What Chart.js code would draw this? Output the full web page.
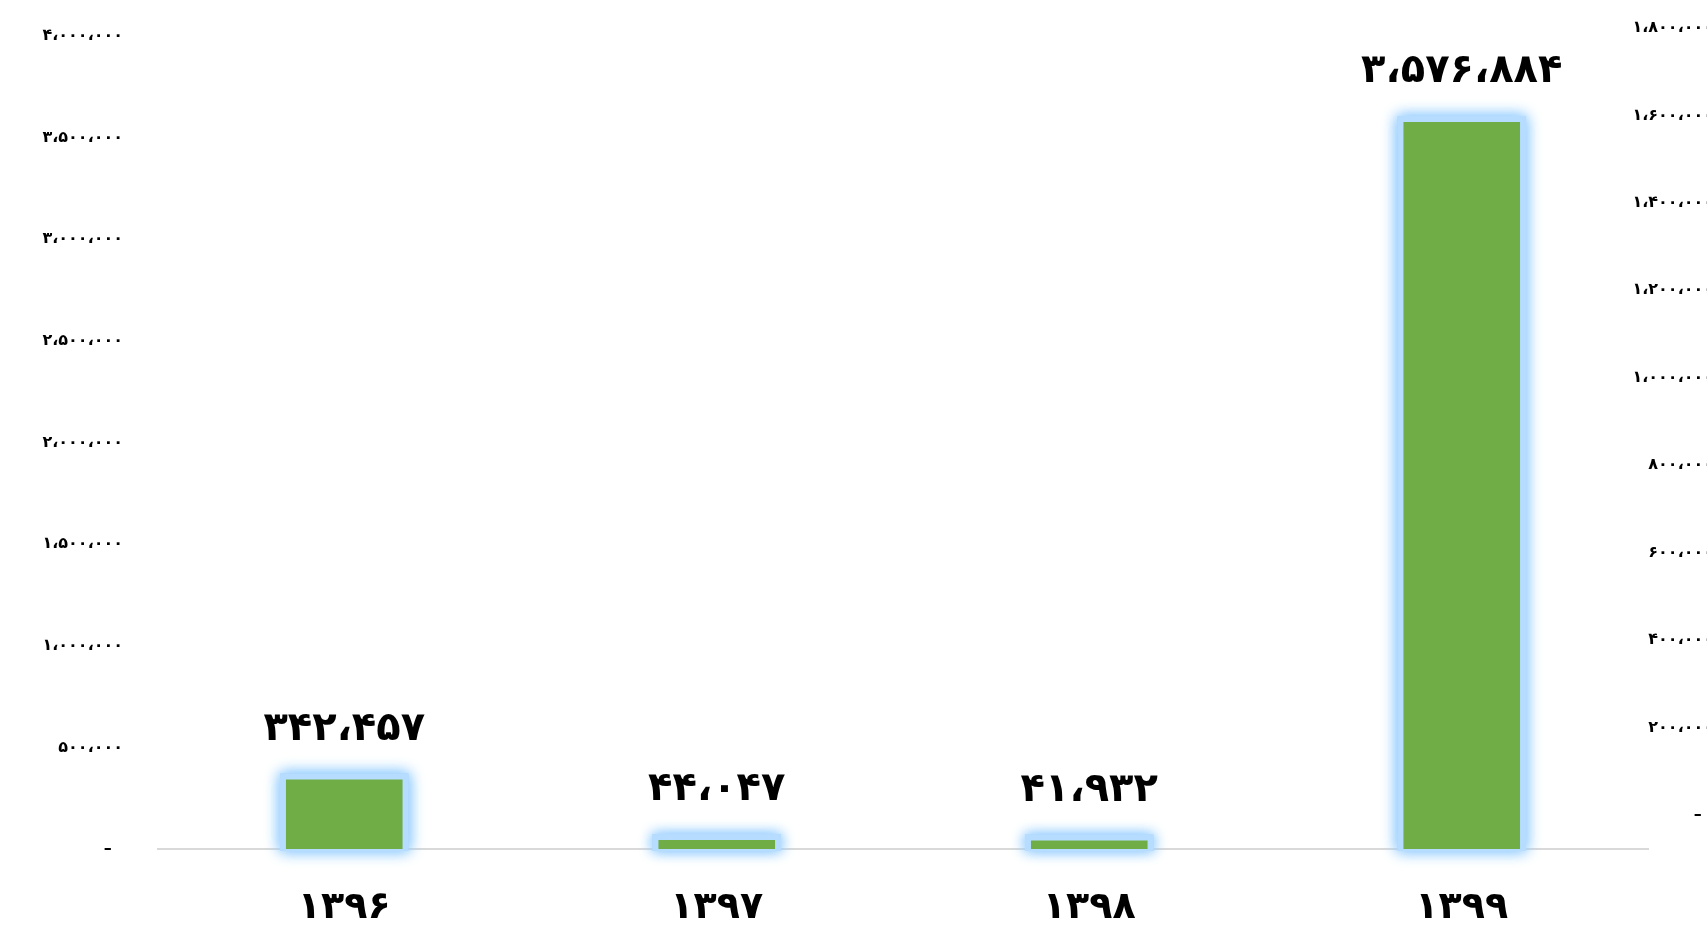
<!DOCTYPE html>
<html>
<head>
<meta charset="utf-8">
<script src="https://cdn.jsdelivr.net/npm/chart.js@4.4.1/dist/chart.umd.min.js"></script>
<style>
  html, body { margin: 0; padding: 0; background: #fff; overflow: hidden; }
  #wrap { width: 1720px; height: 928px; }
</style>
</head>
<body>
<div id="wrap"><canvas id="chartSales"></canvas></div>
<script>
// data
const years = ["۱۳۹۶", "۱۳۹۷", "۱۳۹۸", "۱۳۹۹"];
const amounts = [342457, 44047, 41932, 3576884];
const leftTicks = [0, 500000, 1000000, 1500000, 2000000, 2500000, 3000000, 3500000, 4000000];
const rightTicks = [0, 200000, 400000, 600000, 800000, 1000000, 1200000, 1400000, 1600000, 1800000];

const faDigits = "۰۱۲۳۴۵۶۷۸۹";
const toFa = (n) => {
    return n.toLocaleString("en-US").replace(/\d/g, (c) => faDigits[c]).replace(/,/g, "،");
};

const FONT = "'DejaVu Sans', sans-serif";

// light blue glow behind the bars
const glowPlugin = {
    id: "glow",
    beforeDatasetsDraw(chart) {
        const ctx = chart.ctx;
        const meta = chart.getDatasetMeta(0);
        ctx.save();
        ctx.shadowColor = "rgba(150,205,255,1)";
        ctx.shadowBlur = 14;
        ctx.fillStyle = "rgba(182,220,255,1)";
        meta.data.forEach((bar) => {
            const p = bar.getProps(["x", "y", "base", "width"], true);
            const g = 6;
            for (let k = 0; k < 2; k++) {
                ctx.fillRect(p.x - p.width / 2 - g, p.y - g, p.width + g * 2, p.base - p.y + g + 2);
            }
        });
        ctx.restore();
    },
};

// value labels above bars
const valueLabels = {
    id: "valueLabels",
    afterDatasetsDraw(chart) {
        const ctx = chart.ctx;
        const meta = chart.getDatasetMeta(0);
        ctx.save();
        ctx.font = "bold 40px " + FONT;
        ctx.fillStyle = "#000";
        ctx.textAlign = "center";
        ctx.textBaseline = "middle";
        meta.data.forEach((bar, i) => {
            ctx.fillText(toFa(amounts[i]), bar.x, bar.y - 50);
        });
        ctx.restore();
    },
};

const noPad = (scale, w) => {
    scale.width = w;
    scale.paddingTop = 0;
    scale.paddingBottom = 0;
};

const ctx1 = document.getElementById("chartSales");
const chartSales = new Chart(ctx1, {
    type: "bar",
    data: {
        labels: years,
        datasets: [
            {
                data: amounts,
                backgroundColor: "#70AD47",
                categoryPercentage: 1,
                barPercentage: 0.313,
                yAxisID: "y",
            },
        ],
    },
    options: {
        responsive: true,
        maintainAspectRatio: false,
        animation: false,
        layout: { padding: { top: 28, left: 0, right: 0, bottom: 0 } },
        plugins: {
            legend: { display: false },
            tooltip: { enabled: false },
        },
        scales: {
            x: {
                z: 1,
                grid: { display: false, drawTicks: false },
                border: { display: true, color: "#d9d9d9", width: 2 },
                ticks: {
                    color: "#000",
                    font: { family: FONT, size: 38, weight: "bold" },
                    padding: 36,
                },
                afterFit: (scale) => { scale.height = 79; },
            },
            y: {
                position: "left",
                min: 0,
                max: 4039000,
                grid: { display: false, drawTicks: false },
                border: { display: false },
                afterBuildTicks: (scale) => { scale.ticks = leftTicks.map((v) => ({ value: v })); },
                ticks: {
                    color: "#000",
                    font: { family: FONT, size: 16, weight: "bold" },
                    padding: 35,
                    callback: (v) => (v === 0 ? "–  " : toFa(v)),
                },
                afterFit: (scale) => noPad(scale, 158),
            },
            y2: {
                position: "right",
                min: -77700,
                max: 1800000,
                grid: { display: false, drawTicks: false },
                border: { display: false },
                afterBuildTicks: (scale) => { scale.ticks = rightTicks.map((v) => ({ value: v })); },
                ticks: {
                    color: "#000",
                    font: { family: FONT, size: 16, weight: "bold" },
                    mirror: true,
                    padding: 65,
                    callback: (v) => (v === 0 ? "–  " : toFa(v)),
                },
                afterFit: (scale) => noPad(scale, 72),
            },
        },
    },
    plugins: [glowPlugin, valueLabels],
});
</script>
</body>
</html>
